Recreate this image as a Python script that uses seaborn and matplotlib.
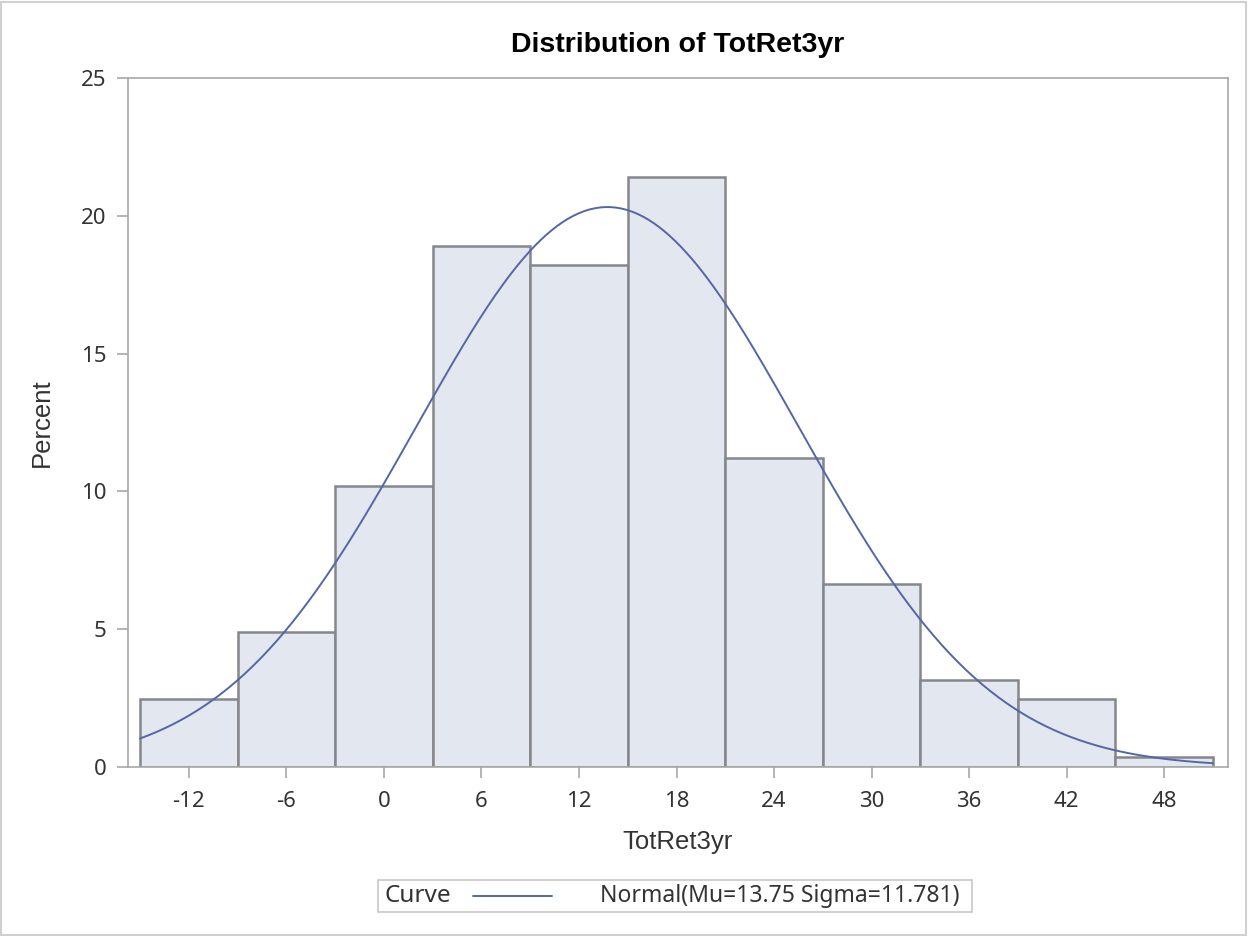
import numpy as np
import pandas as pd
import matplotlib
matplotlib.use("Agg")
import matplotlib.pyplot as plt
from matplotlib.lines import Line2D
from matplotlib.patches import Rectangle
import seaborn as sns

# Histogram bins (midpoints, width 6) and their percentages
bin_mids = [-12, -6, 0, 6, 12, 18, 24, 30, 36, 42, 48]
percents = [2.45, 4.9, 10.2, 18.9, 18.2, 21.4, 11.2, 6.65, 3.15, 2.45, 0.35]
bin_width = 6
x_ticks = [-12, -6, 0, 6, 12, 18, 24, 30, 36, 42, 48]
y_ticks = [0, 5, 10, 15, 20, 25]

# Fitted normal parameters
mu = 13.75
sigma = 11.781

sns.set_theme(style="white")
plt.rcParams["font.family"] = ["Liberation Sans", "DejaVu Sans"]

fill_col = "#E3E7F0"
edge_col = "#85878C"
curve_col = "#5566A6"
axis_col = "#A8A8A8"
text_col = "#333333"
tick_font = ["Noto Sans", "DejaVu Sans"]

fig = plt.figure(figsize=(12.48, 9.36), dpi=100)
ax = fig.add_axes([127.5 / 1248, 1 - 767 / 936, (1227.5 - 127.5) / 1248, (767 - 78) / 936])

edges = [float(m - bin_width / 2) for m in bin_mids] + [float(bin_mids[-1] + bin_width / 2)]
hist_df = pd.DataFrame({"TotRet3yr": bin_mids, "Percent": percents})
sns.histplot(data=hist_df, x="TotRet3yr", weights="Percent", bins=edges,
             color=fill_col, edgecolor=edge_col, linewidth=1.8, alpha=1.0, ax=ax)

xs = np.linspace(edges[0], edges[-1], 400)
ys = 100 * bin_width * np.exp(-0.5 * ((xs - mu) / sigma) ** 2) / (sigma * np.sqrt(2 * np.pi))
curve_df = pd.DataFrame({"x": xs, "y": ys})
sns.lineplot(data=curve_df, x="x", y="y", color=curve_col, linewidth=1.4, ax=ax)

ax.set_xlim(-15.77, 51.89)
ax.set_ylim(0, 25)
ax.set_xticks(x_ticks)
ax.set_yticks(y_ticks)
ax.set_xticklabels([str(v) for v in x_ticks], family=tick_font)
ax.set_yticklabels([str(v) for v in y_ticks], family=tick_font)
ax.tick_params(axis="both", which="major", direction="out", length=8, width=1.2,
               color=axis_col, labelsize=16, labelcolor=text_col, pad=7, bottom=True, left=True)
ax.tick_params(axis="x", pad=9)
for sp in ax.spines.values():
    sp.set_color(axis_col)
    sp.set_linewidth(1.2)

ax.set_xlabel("TotRet3yr", fontsize=18.5, color=text_col, labelpad=13)
ax.set_ylabel("Percent", fontsize=18.5, color=text_col, labelpad=20)
ax.set_title("Distribution of TotRet3yr", fontsize=20.5, fontweight="bold", color="black", pad=19)

# Legend box at the bottom
lx0, lx1, ly0, ly1 = 378 / 1248, 972 / 1248, 1 - 912 / 936, 1 - 880 / 936
fig.patches.append(Rectangle((lx0, ly0), lx1 - lx0, ly1 - ly0, transform=fig.transFigure,
                             facecolor="white", edgecolor="#C8C8C8", linewidth=1.2))
ly = (ly0 + ly1) / 2
fig.text(385 / 1248, ly, "Curve", fontsize=17.5, va="center", ha="left", color=text_col,
         family=tick_font)
fig.lines.append(Line2D([473 / 1248, 552 / 1248], [ly, ly], transform=fig.transFigure,
                        color=curve_col, linewidth=1.4))
fig.text(600 / 1248, ly, f"Normal(Mu={mu} Sigma={sigma})", fontsize=16.5, va="center",
         ha="left", color=text_col, family=tick_font)

# Outer frame
fig.patches.append(Rectangle((0.001, 0.001), 0.997, 0.997, transform=fig.transFigure,
                             facecolor="none", edgecolor="#D0D0D0", linewidth=1.5))

fig.savefig("out.png", dpi=100)
